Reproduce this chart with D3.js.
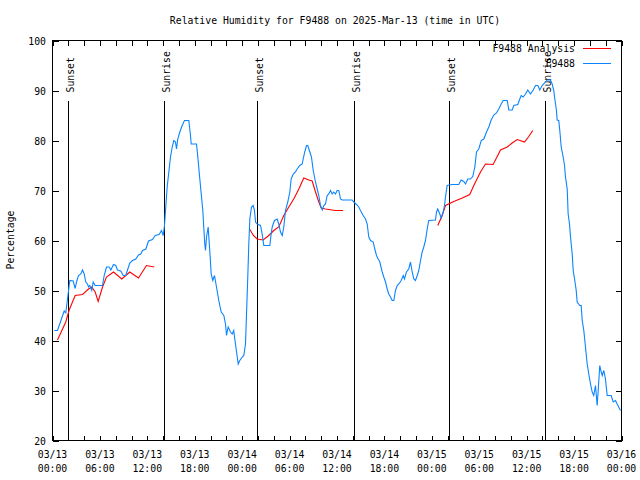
<!DOCTYPE html>
<html>
<head>
<meta charset="utf-8">
<script src="https://cdn.jsdelivr.net/npm/d3@7"></script>
<style>
  html, body { margin: 0; padding: 0; background: #fff; }
  svg { display: block; }
  text { font-family: "DejaVu Sans Mono", "Liberation Mono", monospace; font-size: 9.8px; fill: #000; }
</style>
</head>
<body>
<svg id="chart" width="640" height="480"></svg>
<script>
// ---- Data (hours since 2025-03-13 00:00 UTC) ----
const titleText = "Relative Humidity for F9488 on 2025-Mar-13 (time in UTC)";
const yLabel = "Percentage";
const seriesNames = ["F9488 Analysis", "F9488"];

const tickDates = ["03/13","03/13","03/13","03/13","03/14","03/14","03/14","03/14","03/15","03/15","03/15","03/15","03/16"];
const tickTimes = ["00:00","06:00","12:00","18:00","00:00","06:00","12:00","18:00","00:00","06:00","12:00","18:00","00:00"];
const yTicks = [20, 30, 40, 50, 60, 70, 80, 90, 100];

const sunHours = [1.90, 14.17, 25.94, 38.21, 50.11, 62.38];
const sunLabels = ["Sunset", "Sunrise", "Sunset", "Sunrise", "Sunset", "Sunrise"];

const obsHours = [0.22,0.63,1.48,1.68,2.19,2.62,2.87,3.04,3.29,3.58,3.80,4.01,4.21,4.43,4.56,4.72,4.97,5.15,5.40,6.33,
  6.54,6.83,7.17,7.38,7.72,8.01,8.22,8.64,8.95,9.27,9.49,9.78,10.12,10.54,10.88,11.17,11.39,11.81,12.15,12.65,
  13.00,13.50,13.79,14.01,14.17,14.30,14.51,14.72,14.93,15.15,15.35,15.56,15.69,15.85,16.11,16.41,16.70,17.25,17.46,17.55,
  18.22,18.39,18.64,18.82,19.02,19.14,19.27,19.36,19.49,19.70,19.78,19.90,20.08,20.28,20.50,20.75,21.04,21.35,21.68,21.89,
  22.02,22.23,22.52,22.74,22.94,23.03,23.24,23.50,23.70,24.00,24.21,24.42,24.55,24.71,24.84,24.97,25.18,25.40,25.56,25.69,
  25.90,26.32,26.53,26.74,27.50,27.67,27.80,28.09,28.43,28.63,28.85,29.07,29.27,29.48,29.77,30.03,30.20,30.46,30.75,30.96,
  31.29,31.60,31.72,31.92,32.14,32.30,32.56,32.77,32.99,33.28,33.49,33.70,33.91,34.13,34.33,34.54,34.76,34.96,35.18,35.39,
  35.60,35.81,36.02,36.23,36.44,36.66,37.92,38.13,38.47,38.76,38.97,39.31,39.61,39.82,40.02,40.24,40.58,40.78,41.00,41.21,
  41.42,41.72,41.92,42.14,42.35,42.55,42.77,42.98,43.19,43.40,43.62,43.82,44.12,44.38,44.54,44.79,45.08,45.30,45.51,45.72,
  45.93,46.15,46.35,46.57,46.78,46.98,47.20,47.41,47.61,48.46,48.59,48.75,49.01,49.18,49.44,49.60,49.73,49.94,50.58,51.41,
  51.71,52.04,52.26,52.55,52.89,53.18,53.44,53.65,53.94,54.25,54.58,54.92,55.21,55.51,55.84,56.18,56.47,56.78,57.03,57.54,
  57.74,58.17,58.37,58.88,59.13,59.31,59.56,59.85,60.14,60.48,60.83,61.12,61.41,61.66,61.96,62.38,62.59,63.01,63.23,63.43,
  63.56,63.77,63.86,64.06,64.19,64.37,64.62,64.79,64.91,65.13,65.25,65.42,65.55,65.76,65.89,66.09,66.27,66.39,66.72,66.90,
  67.03,67.23,67.36,67.53,67.66,67.86,68.08,68.29,68.49,68.71,68.92,69.05,69.25,69.43,69.56,69.76,69.97,70.19,70.69,70.95,
  71.24,71.45,71.87];
const obsRH = [42,42,45.9,45.5,52,51.9,50.4,51.7,53,53.3,54.1,53.3,51.7,51.3,50.7,51,50,51.7,51,51,
  53,54.7,54.7,54.1,55.2,55,54.1,53.9,53,53,54.1,55.5,56,56.3,57.1,57.3,58,58.3,59.9,60.2,
  61,61.2,62,61,63,66,70.7,73.7,76.7,78.7,80,79.7,78.3,80.3,81.7,83,84,84,81,79.3,
  79.3,76.7,72.3,69.3,66,62.7,59.3,58,60.7,62.7,60.7,58,53.3,52,53,50.7,48,45.7,45,43.3,
  41,42.7,41.7,41.3,42,40.7,38.3,35.3,36,36.7,37,39.3,45.3,52.7,59.3,64.3,66.7,67,66,63.7,
  63.3,63,61.3,59,59,61.3,62.7,64,64.3,63.3,61.7,61,62.7,66,67.7,69.7,72.3,73.3,73.7,74.3,
  75,75.3,76.3,77.7,79,79,77.7,76.7,74,71.7,70.3,69,67,66.1,67,67.3,69,69.3,70,69.3,
  69.7,69.3,70,70,68.3,68.1,68.1,67.7,67.2,66.7,66,65,64.3,63.3,60.7,60,59.7,58.3,57,56.3,
  55.7,53.7,52.7,51.7,50.3,49.3,48.7,48,48,50,51,51.3,52,53,52.3,53.7,54.3,55.7,53.7,52.3,
  52,53,54,56,57.7,58.7,60,62.3,64,64.1,65.7,66.3,65.3,64.5,65.7,67,68.7,71,71.2,71.2,
  72.1,71.8,71.3,72.3,72.3,72.8,74.7,77.7,78.3,80,80.3,81.7,82.7,84.1,85.1,85.5,86.3,87.3,88,88,
  86.1,86.1,87,87.2,88.3,89,88.7,89.3,90.1,89.3,90.1,91,91,90.1,91,91.7,92.1,92.1,91.3,90,
  88.3,86,84.1,84,82,78.7,76.7,75,72.7,70.3,65.3,63.3,60.7,57.3,54,52,50,47.7,47,47,
  44,42,40,37.3,35.3,33.3,31.3,29.7,29,31,27,30,35,33.7,33,34,32.3,29,29,27.7,
  28,27.3,26];

// Analysis (null = gap between model runs)
const anaHours = [0.63,1.68,2.11,2.87,3.80,4.56,4.97,5.40,5.78,6.33,6.83,7.72,8.77,9.78,10.88,11.89,12.87,
  null,
  24.92,25.43,25.90,26.66,27.37,28.00,28.63,29.27,29.90,30.53,31.17,31.80,32.43,32.86,33.28,33.70,34.00,34.54,35.39,35.81,36.78,
  null,
  48.75,49.31,49.73,50.78,51.84,52.80,53.31,54.16,54.79,55.76,56.69,57.54,58.17,58.80,59.73,60.27,60.77];
const anaRH = [40.1,43.7,46.1,49,49.2,50.3,50.7,49.7,47.8,50.7,52.7,53.7,52.3,53.7,52.5,55,54.7,
  null,
  62.3,61,60.3,60.1,61,62,62.7,65,66.7,68.3,70.3,72.5,72.1,71.9,69.7,67.7,66.5,66.3,66.1,66,66,
  null,
  63,65,67,67.8,68.5,69.2,71,73.7,75.3,75.2,78.1,78.7,79.5,80.2,79.7,80.8,82];

// ---- Layout ----
const svg = d3.select("#chart");
const L = 52.5, R = 621.5, T = 40.5, B = 440.5;
const x = d3.scaleLinear().domain([0, 72]).range([L, R]);
const y = d3.scaleLinear().domain([20, 100]).range([B, T]);
const colRed = "#ff0000", colBlue = "#0a84ff";

// Title
svg.append("text").attr("x", 335).attr("y", 24).attr("text-anchor", "middle").text(titleText);

// Y axis label
svg.append("text").attr("transform", "translate(14,240) rotate(-90)")
  .attr("text-anchor", "middle").text(yLabel);

// Ticks
const g = svg.append("g").attr("shape-rendering", "crispEdges").attr("stroke", "#000").attr("stroke-width", 1);
d3.range(0, 73, 2).forEach(h => {
  const xx = Math.round(x(h)) + 0.5;
  g.append("line").attr("x1", xx).attr("x2", xx).attr("y1", B).attr("y2", B - 5);
  g.append("line").attr("x1", xx).attr("x2", xx).attr("y1", T).attr("y2", T + 5);
});
yTicks.forEach(v => {
  const yy = Math.round(y(v)) + 0.5;
  g.append("line").attr("x1", L).attr("x2", L + 6).attr("y1", yy).attr("y2", yy);
  g.append("line").attr("x1", R).attr("x2", R - 6).attr("y1", yy).attr("y2", yy);
});

// Y tick labels
yTicks.forEach(v => {
  svg.append("text").attr("x", 46).attr("y", y(v) + 4).attr("text-anchor", "end").text(v);
});
// X tick labels
tickDates.forEach((d, i) => {
  const xx = x(i * 6);
  svg.append("text").attr("x", xx).attr("y", 458).attr("text-anchor", "middle").text(d);
  svg.append("text").attr("x", xx).attr("y", 472).attr("text-anchor", "middle").text(tickTimes[i]);
});

// Sunrise / sunset markers
sunHours.forEach((h, i) => {
  const xx = Math.round(x(h)) + 0.5;
  g.append("line").attr("x1", xx).attr("x2", xx).attr("y1", B).attr("y2", y(88));
  svg.append("text").attr("transform", `translate(${xx + 5},${y(89.6)}) rotate(-90)`)
    .attr("text-anchor", "start").text(sunLabels[i]);
});

// Data lines
const obs = obsHours.map((h, i) => [h, obsRH[i]]);
const ana = anaHours.map((h, i) => [h, anaRH[i]]);
const line = d3.line().defined(d => d[0] !== null && d[1] !== null).x(d => x(d[0])).y(d => y(d[1]));

svg.append("path").datum(ana).attr("d", line).attr("fill", "none")
  .style("stroke", colRed).attr("stroke-width", 1.1);
svg.append("path").datum(obs).attr("d", line).attr("fill", "none")
  .style("stroke", colBlue).attr("stroke-width", 1.1);

// Frame
g.append("rect").attr("x", L).attr("y", T).attr("width", R - L).attr("height", B - T).attr("fill", "none");

// Legend
const legendY = [48, 63];
const legendCols = [colRed, colBlue];
const lg = svg.append("g");
seriesNames.forEach((n, i) => {
  lg.append("text").attr("x", 575).attr("y", legendY[i] + 4).attr("text-anchor", "end").text(n);
  lg.append("rect").attr("x", 583).attr("y", legendY[i]).attr("width", 28).attr("height", 1)
    .style("fill", legendCols[i]).style("stroke", "none");
});
</script>
</body>
</html>
